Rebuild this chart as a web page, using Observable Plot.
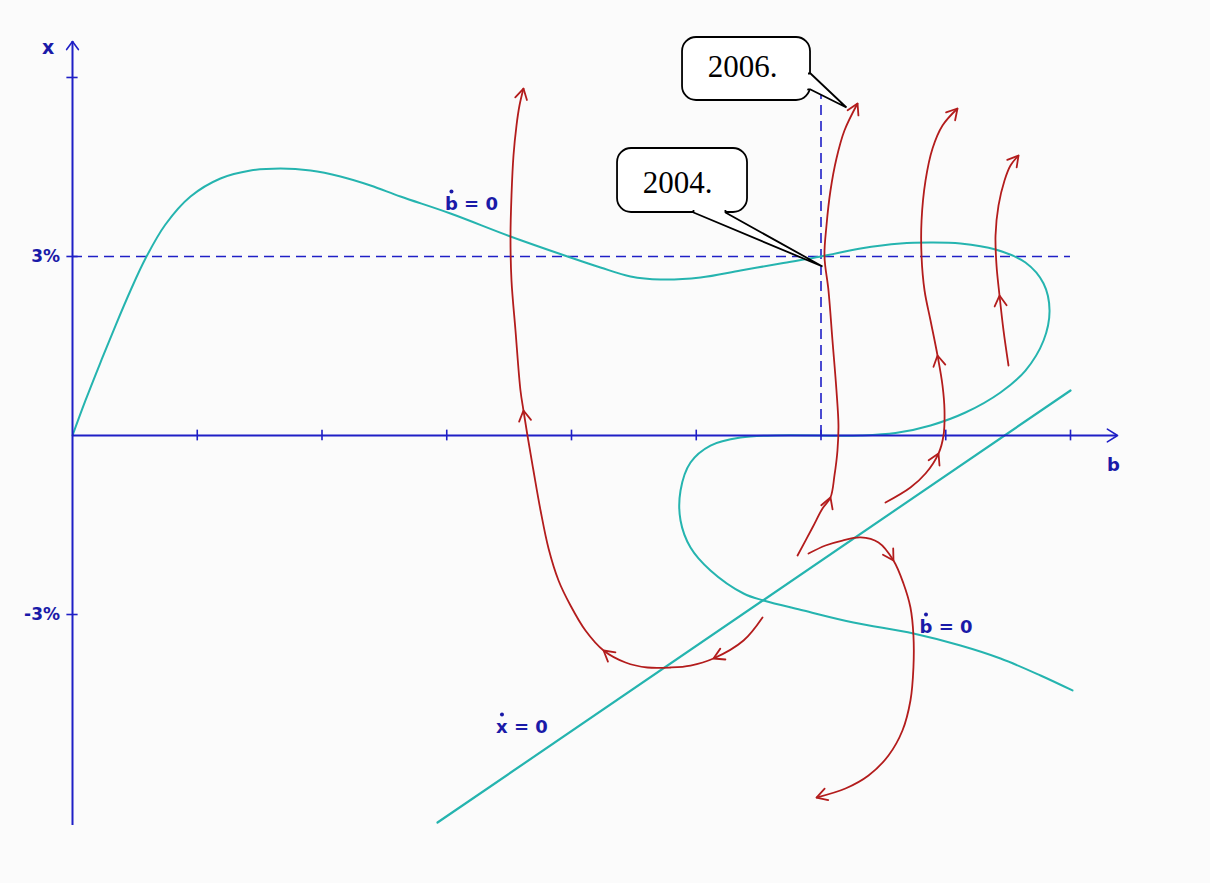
<!DOCTYPE html>
<html>
<head>
<meta charset="utf-8">
<script src="https://cdn.jsdelivr.net/npm/d3@7"></script>
<script src="https://cdn.jsdelivr.net/npm/@observablehq/plot@0.6"></script>
<style>
  body { margin: 0; background: #fbfbfb; }
  #chart svg { display: block; }
</style>
</head>
<body>
<div id="chart"></div>
<script>
// Phase diagram: b (horizontal) against x in % (vertical).

// Tick positions
const bTicks = [1, 2, 3, 4, 5, 6, 7, 8];
const xTicks = [6, 3, -3];
const xTickLabels = [{ text: "3%", x: 3 }, { text: "-3%", x: -3 }];

// ḃ = 0 nullcline, [b, x]
const bNullcline = [
  [0, 0], [0.104, 0.587], [0.224, 1.223], [0.345, 1.843], [0.465, 2.430],
  [0.585, 2.966], [0.745, 3.536], [0.946, 4.005], [1.186, 4.307], [1.427, 4.441],
  [1.667, 4.475], [1.908, 4.441], [2.148, 4.341], [2.389, 4.190], [2.629, 4.005],
  [3.030, 3.720], [3.511, 3.335], [3.968, 3.000], [4.232, 2.816], [4.473, 2.665],
  [4.713, 2.614], [5.034, 2.648], [5.355, 2.765], [5.675, 2.883], [6.0, 3.0],
  [6.317, 3.134], [6.637, 3.218], [6.878, 3.234], [7.118, 3.218], [7.399, 3.117],
  [7.639, 2.899], [7.784, 2.547], [7.832, 2.095], [7.784, 1.592], [7.639, 1.089],
  [7.439, 0.721], [7.158, 0.385], [6.878, 0.168], [6.597, 0.040], [6.317, 0],
  [5.635, 0], [5.355, -0.034], [5.114, -0.168], [4.954, -0.452], [4.874, -0.922],
  [4.874, -1.424], [4.954, -1.877], [5.114, -2.262], [5.379, -2.648], [5.539, -2.765],
  [5.860, -2.933], [6.260, -3.134], [6.741, -3.318], [7.118, -3.519], [7.439, -3.737],
  [7.760, -4.022], [8.016, -4.273]
];

// ẋ = 0 nullcline (straight line)
const xNullcline = [[2.926, -6.486], [8.0, 0.754]];

// Reference guides: x = 3 % and b = 6
const guideX = 3;
const guideB = 6;

// Trajectories, each listed in the direction of motion, with the indices
// of the points that carry an arrowhead along the way
const trajA = [
  [5.531, -3.050], [5.379, -3.436], [5.138, -3.737], [4.954, -3.855], [4.794, -3.888],
  [4.609, -3.888], [4.433, -3.804], [4.257, -3.603], [4.112, -3.268], [3.992, -2.849],
  [3.896, -2.430], [3.816, -1.894], [3.752, -1.257], [3.695, -0.587], [3.647, 0],
  [3.615, 0.419], [3.591, 0.754], [3.551, 1.760], [3.519, 2.598], [3.511, 3.318],
  [3.519, 4.022], [3.535, 4.692], [3.559, 5.195], [3.583, 5.530], [3.615, 5.815]
];
const trajAArrows = [2, 7, 15];

const trajB = [
  [5.812, -2.011], [5.932, -1.542], [6.012, -1.223], [6.076, -1.039], [6.108, -0.670],
  [6.132, -0.251], [6.140, 0.168], [6.124, 0.754], [6.092, 1.592], [6.060, 2.430],
  [6.028, 3.000], [6.044, 3.519], [6.076, 4.106], [6.124, 4.642], [6.188, 5.111],
  [6.293, 5.564]
];
const trajBArrows = [3];

const trajC = [
  [6.517, -1.123], [6.717, -0.871], [6.838, -0.637], [6.942, -0.302], [6.982, 0],
  [6.990, 0.419], [6.974, 0.838], [6.934, 1.341], [6.878, 1.927], [6.830, 2.430],
  [6.806, 3.000], [6.806, 3.603], [6.838, 4.274], [6.894, 4.810], [6.974, 5.195],
  [7.094, 5.480]
];
const trajCArrows = [3, 7];

const trajD = [
  [7.503, 1.173], [7.463, 1.760], [7.431, 2.346], [7.407, 2.849], [7.399, 3.352],
  [7.423, 3.855], [7.471, 4.274], [7.519, 4.525], [7.583, 4.692]
];
const trajDArrows = [2];

const trajE = [
  [5.900, -1.978], [6.036, -1.843], [6.172, -1.760], [6.317, -1.709], [6.461, -1.793],
  [6.581, -2.095], [6.661, -2.480], [6.717, -2.883], [6.741, -3.352], [6.741, -3.888],
  [6.717, -4.441], [6.653, -4.944], [6.541, -5.363], [6.381, -5.698], [6.196, -5.916],
  [5.964, -6.067]
];
const trajEArrows = [5];

// Nullcline labels (the dot over the variable is drawn as a separate mark)
const nullLabels = [
  { text: "b = 0", b: 3.198, x: 3.771 },
  { text: "b = 0", b: 7.002, x: -3.318 },
  { text: "x = 0", b: 3.603, x: -4.994 }
];

// Year call-outs: box corners, text anchor, and the pointer (inner, edge, tip, edge, inner)
const callouts = [
  {
    year: "2006.", b1: 4.890, b2: 5.916, x1: 5.614, x2: 6.670, tb: 5.371, tx: 6.0,
    pointer: [[5.836, 6.067], [5.916, 6.067], [6.204, 5.497], [5.916, 5.799], [5.836, 5.799]]
  },
  {
    year: "2004.", b1: 4.369, b2: 5.411, x1: 3.737, x2: 4.810, tb: 4.850, tx: 4.072,
    pointer: [[4.978, 3.855], [4.978, 3.737], [6.012, 2.832], [5.234, 3.737], [5.234, 3.855]]
  }
];

// Layout: pixel size of one unit on each axis and the origin position
const KX = 124.75, KY = 59.67, X0 = 72, Y0 = 435;
const W = 1210, H = 883;

const AXIS = "#1f1fc6", LABEL = "#1a1aa8", TEAL = "#25b4af", RED = "#b31c1c";

// Open arrowhead (two wings) at `tip`, pointing along data vector `dir`
function wings(tip, dir, len, halfDeg) {
  let ux = dir[0] * KX, uy = -dir[1] * KY;
  const n = Math.hypot(ux, uy); ux /= n; uy /= n;
  const a = halfDeg * Math.PI / 180;
  const w = s => {
    const c = Math.cos(s * a), si = Math.sin(s * a);
    const rx = -(ux * c - uy * si), ry = -(ux * si + uy * c);
    return [tip[0] + rx * len / KX, tip[1] - ry * len / KY];
  };
  return [w(1), tip, w(-1)];
}

const trajectories = [
  [trajA, trajAArrows], [trajB, trajBArrows], [trajC, trajCArrows],
  [trajD, trajDArrows], [trajE, trajEArrows]
];

const heads = [];
trajectories.forEach(([pts, idx]) => {
  idx.forEach(i => {
    const dir = [pts[i + 1][0] - pts[i - 1][0], pts[i + 1][1] - pts[i - 1][1]];
    heads.push(wings(pts[i], dir, 12, 30));
  });
  const m = pts.length - 1;
  heads.push(wings(pts[m], [pts[m][0] - pts[m - 1][0], pts[m][1] - pts[m - 1][1]], 12, 30));
});
const headRows = heads.flatMap((h, id) => h.map(p => ({ id, b: p[0], x: p[1] })));
const trajRows = trajectories.flatMap(([pts], id) => pts.map(p => ({ id, b: p[0], x: p[1] })));

const bAxisEnd = 8.377, xAxisTop = 6.603, xAxisBottom = -6.536;
const axisHeads = [
  wings([0, xAxisTop], [0, 1], 10, 36),
  wings([bAxisEnd, 0], [1, 0], 12, 32)
].flatMap((h, id) => h.map(p => ({ id, b: p[0], x: p[1] })));

const pointerRows = callouts.flatMap((c, id) => c.pointer.map(p => ({ id, b: p[0], x: p[1] })));

const labelFont = { fontFamily: "DejaVu Sans", fontWeight: "bold", fill: LABEL };

const chart = Plot.plot({
  width: W,
  height: H,
  margin: 0,
  style: { background: "#fbfbfb", overflow: "visible" },
  x: { domain: [0, 8.5], range: [X0, X0 + 8.5 * KX], axis: null },
  y: { domain: [-7, 7], range: [Y0 + 7 * KY, Y0 - 7 * KY], axis: null },
  marks: [
    // dashed guides
    Plot.ruleY([guideX], { x1: 0, x2: 8.0, stroke: AXIS, strokeWidth: 1.6, strokeDasharray: "10,6" }),
    Plot.ruleX([guideB], { y1: 0, y2: 5.78, stroke: AXIS, strokeWidth: 1.6, strokeDasharray: "10,6" }),

    // nullclines
    Plot.line(bNullcline, { x: d => d[0], y: d => d[1], curve: "catmull-rom", stroke: TEAL, strokeWidth: 2 }),
    Plot.line(xNullcline, { x: d => d[0], y: d => d[1], stroke: TEAL, strokeWidth: 2.2 }),

    // axes
    Plot.ruleY([0], { x1: 0, x2: bAxisEnd, stroke: AXIS, strokeWidth: 2 }),
    Plot.ruleX([0], { y1: xAxisBottom, y2: xAxisTop, stroke: AXIS, strokeWidth: 2 }),
    Plot.ruleX(bTicks, { x: d => d, y1: -0.09, y2: 0.09, stroke: AXIS, strokeWidth: 1.6 }),
    Plot.ruleY(xTicks, { y: d => d, x1: -0.045, x2: 0.045, stroke: AXIS, strokeWidth: 1.6 }),
    Plot.line(axisHeads, { x: "b", y: "x", z: "id", stroke: AXIS, strokeWidth: 1.6 }),

    // trajectories
    Plot.line(trajRows, { x: "b", y: "x", z: "id", curve: "catmull-rom", stroke: RED, strokeWidth: 1.8 }),
    Plot.line(headRows, { x: "b", y: "x", z: "id", stroke: RED, strokeWidth: 1.8, strokeLinejoin: "miter" }),

    // axis labels
    Plot.text(["x"], { x: -0.196, y: 6.40, text: d => d, textAnchor: "middle", lineAnchor: "bottom", fontSize: 19, ...labelFont }),
    Plot.text(["b"], { x: 8.345, y: -0.587, text: d => d, textAnchor: "middle", lineAnchor: "bottom", fontSize: 18, ...labelFont }),
    Plot.text(xTickLabels, { x: -0.10, y: d => d.x - 0.10, text: "text", textAnchor: "end", lineAnchor: "bottom", fontSize: 17, letterSpacing: 3, ...labelFont }),

    // nullcline labels with the time-derivative dot
    Plot.text(nullLabels, { x: "b", y: "x", text: "text", textAnchor: "middle", lineAnchor: "bottom", fontSize: 18, letterSpacing: 0.5, ...labelFont }),
    Plot.dot(nullLabels, { x: "b", y: "x", dx: -20, dy: -19, r: 2, fill: LABEL }),

    // call-outs
    Plot.rect(callouts, { x1: "b1", x2: "b2", y1: "x1", y2: "x2", rx: 14, fill: "white", stroke: "black", strokeWidth: 1.8 }),
    Plot.line(pointerRows, { x: "b", y: "x", z: "id", fill: "white", stroke: "black", strokeWidth: 1.8, strokeLinejoin: "miter" }),
    Plot.rect(callouts, { x1: "b1", x2: "b2", y1: "x1", y2: "x2", rx: 13, inset: 2, fill: "white" }),
    Plot.text(callouts, { x: "tb", y: "tx", text: "year", textAnchor: "middle", lineAnchor: "bottom", fontFamily: "Liberation Serif", fontSize: 31, fill: "black" })
  ]
});

document.getElementById("chart").append(chart);
</script>
</body>
</html>
